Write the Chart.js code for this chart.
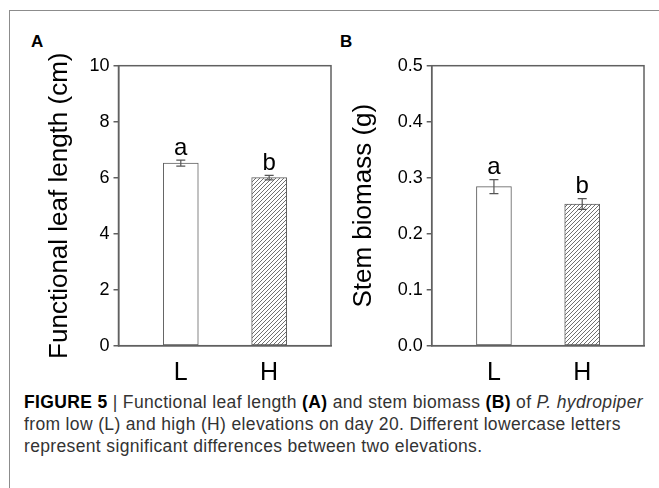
<!DOCTYPE html>
<html>
<head>
<meta charset="utf-8">
<script src="https://cdn.jsdelivr.net/npm/chart.js@4.4.0/dist/chart.umd.min.js"></script>
<style>
  body { margin: 0; background: #fff; width: 659px; height: 488px; overflow: hidden; position: relative;
         font-family: "Liberation Sans", Arial, sans-serif; }
  #frame { position: absolute; left: 9px; top: 10px; width: 700px; height: 500px;
           border-left: 1.5px solid #8c8c8c; border-top: 1.5px solid #8c8c8c; }
  .panel { position: absolute; font-weight: bold; font-size: 17px; line-height: 17px; color: #000; }
  canvas { position: absolute; }
  #caption { position: absolute; left: 24px; top: 391px; font-size: 17.5px; letter-spacing: 0.35px;
             line-height: 22px; color: #333; white-space: nowrap; }
  #caption b { color: #000; }
</style>
</head>
<body>
<div id="frame"></div>
<div class="panel" style="left:31px;top:33px">A</div>
<div class="panel" style="left:340px;top:33px">B</div>
<canvas id="chartA" width="310" height="350" style="left:30px;top:40px"></canvas>
<canvas id="chartB" width="319" height="350" style="left:340px;top:40px"></canvas>
<div id="caption">
  <b>FIGURE 5</b> | Functional leaf length <b>(A)</b> and stem biomass <b>(B)</b> of <i>P. hydropiper</i><br>
  from low (L) and high (H) elevations on day 20. Different lowercase letters<br>
  represent significant differences between two elevations.
</div>
<script>
// Data
const categories = ['L', 'H'];
const leafMeans = [6.52, 6.0];
const leafErrors = [0.11, 0.08];
const leafLetters = ['a', 'b'];
const leafTicks = [0, 2, 4, 6, 8, 10];
const stemMeans = [0.284, 0.253];
const stemErrors = [0.0125, 0.0095];
const stemLetters = ['a', 'b'];
const stemTicks = [0, 0.1, 0.2, 0.3, 0.4, 0.5];

const FONT = '"Liberation Sans", Arial, sans-serif';
const AXIS = '#606060';

// Diagonal hatch for the H bars
function hatch(ctx) {
  const c = document.createElement('canvas');
  c.width = 4; c.height = 4;
  const g = c.getContext('2d');
  g.fillStyle = '#fff';
  g.fillRect(0, 0, 4, 4);
  g.strokeStyle = '#707070';
  g.lineWidth = 1;
  g.beginPath();
  g.moveTo(0, 4); g.lineTo(4, 0);
  g.moveTo(-1, 1); g.lineTo(1, -1);
  g.moveTo(3, 5); g.lineTo(5, 3);
  g.stroke();
  return ctx.createPattern(c, 'repeat');
}

// Error bars + significance letters
const errorBars = {
  id: 'errorBars',
  afterDatasetsDraw(chart, args, opts) {
    const { ctx } = chart;
    const y = chart.scales.y;
    const meta = chart.getDatasetMeta(0);
    ctx.save();
    meta.data.forEach((bar, i) => {
      const v = opts.means[i], e = opts.errors[i];
      const top = y.getPixelForValue(v + e);
      const bot = y.getPixelForValue(v - e);
      ctx.strokeStyle = '#555';
      ctx.lineWidth = 1.2;
      ctx.beginPath();
      ctx.moveTo(bar.x, top); ctx.lineTo(bar.x, bot);
      ctx.moveTo(bar.x - 4.5, top); ctx.lineTo(bar.x + 4.5, top);
      ctx.moveTo(bar.x - 4.5, bot); ctx.lineTo(bar.x + 4.5, bot);
      ctx.stroke();
      ctx.fillStyle = '#000';
      ctx.font = '24px ' + FONT;
      ctx.textAlign = 'center';
      ctx.textBaseline = 'alphabetic';
      ctx.fillText(opts.letters[i], bar.x, top - 5.5);
    });
    ctx.restore();
  }
};

// Closed frame round the plot area
const plotBox = {
  id: 'plotBox',
  afterDraw(chart) {
    const { ctx, chartArea: a } = chart;
    ctx.save();
    ctx.strokeStyle = AXIS;
    ctx.lineWidth = 1.5;
    ctx.strokeRect(a.left, a.top, a.right - a.left, a.bottom - a.top);
    ctx.restore();
  }
};

function makeChart(id, means, errors, letters, yTicks, fmt, title, yWidth, padRight, titlePad) {
  const ctx = document.getElementById(id).getContext('2d');
  return new Chart(ctx, {
    type: 'bar',
    data: {
      datasets: [{
        data: means.map((m, i) => ({ x: i + 1, y: m })),
        backgroundColor: ['#fff', hatch(ctx)],
        borderColor: AXIS,
        borderWidth: 1,
        borderSkipped: false,
        barThickness: 35
      }]
    },
    options: {
      responsive: false,
      animation: false,
      layout: { padding: { top: 25.7, right: padRight, left: 0, bottom: 0 } },
      plugins: {
        legend: { display: false },
        tooltip: { enabled: false },
        errorBars: { means, errors, letters }
      },
      scales: {
        x: {
          type: 'linear',
          offset: false,
          min: 0.295,
          max: 2.7,
          afterBuildTicks: s => { s.ticks = categories.map((c, i) => ({ value: i + 1 })); },
          ticks: { callback: v => categories[v - 1], font: { size: 25, family: FONT }, color: '#000', padding: 4, autoSkip: false, maxRotation: 0 },
          grid: { display: false },
          border: { display: true, color: AXIS, width: 1.5 },
          afterFit: s => { s.height = 44.3; }
        },
        y: {
          min: 0,
          max: yTicks[yTicks.length - 1],
          afterBuildTicks: s => { s.ticks = yTicks.map(v => ({ value: v })); },
          ticks: { callback: fmt, font: { size: 18, family: FONT }, color: '#000', padding: 4 },
          grid: { drawOnChartArea: false, drawTicks: true, tickLength: 5, color: AXIS, lineWidth: 1.5 },
          border: { color: AXIS, width: 1.5 },
          title: { display: true, text: title, font: { size: 26, family: FONT }, color: '#000', padding: { top: titlePad, bottom: 0 } },
          afterFit: s => { s.width = yWidth; }
        }
      }
    },
    plugins: [errorBars, plotBox]
  });
}

makeChart('chartA', leafMeans, leafErrors, leafLetters, leafTicks, v => String(v),
  'Functional leaf length (cm)', 88.5, 9, 14);
makeChart('chartB', stemMeans, stemErrors, stemLetters, stemTicks, v => v.toFixed(1),
  'Stem biomass (g)', 91.7, 15, 8);
</script>
</body>
</html>
